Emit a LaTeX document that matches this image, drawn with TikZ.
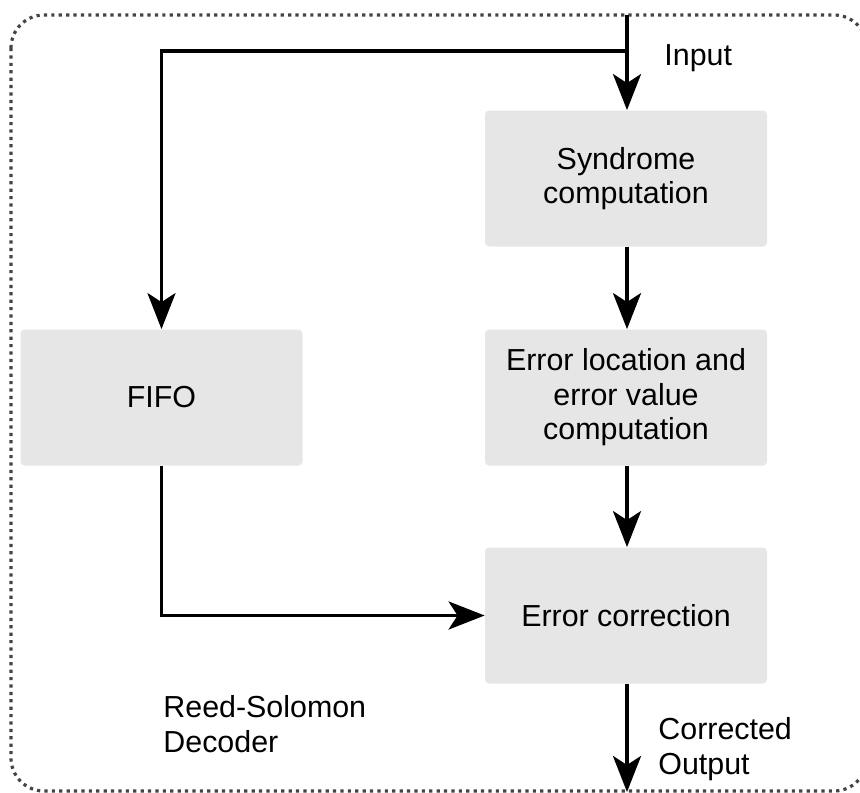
\documentclass[tikz,border=0pt]{standalone}
\usepackage{fontspec}
\setmainfont{Liberation Sans}
\usetikzlibrary{arrows.meta}
\definecolor{boxgray}{HTML}{E6E6E6}
\definecolor{dotgray}{HTML}{444444}
\tikzset{
  blk/.style={fill=boxgray, draw=none, rounded corners=2pt, minimum width=141pt, minimum height=68pt, inner sep=0pt, align=center, font=\fontsize{15.2}{17.3}\selectfont},
  conn/.style={line width=1.9pt, -{Stealth[length=18pt, width=14pt, inset=4.5pt]}},
  lbl/.style={inner sep=0pt, align=left, font=\fontsize{15.2}{17.3}\selectfont},
  frame/.style={draw=dotgray, line width=1.6pt, dash pattern=on 1.6pt off 2.1pt, rounded corners=16.5pt}
}
\begin{document}
\begin{tikzpicture}[x=0.5pt, y=-0.5pt]
\useasboundingbox (0,0) rectangle (860,792);
\draw[frame] (11,15) rectangle (867,791);
\node[blk] (syn) at (626,178.5) {Syndrome\\computation};
\node[blk] (loc) at (626,397.5) {Error location and\\error value\\computation};
\node[blk] (fifo) at (161.5,397.5) {FIFO};
\node[blk] (cor) at (626,615.5) {Error correction};
\coordinate (top) at (627,15);
\coordinate (split) at (627,51);
\coordinate (out) at (627,792);
\draw[conn] (top) -- (syn.north -| top);
\draw[conn] (split) -| (fifo.north);
\draw[conn] (syn.south -| top) -- (loc.north -| top);
\draw[conn] (loc.south -| top) -- (cor.north -| top);
\draw[conn] (fifo.south) |- (cor.west);
\draw[conn] (cor.south -| top) -- (out);
\node[lbl, anchor=north west] (inlbl) at (664,44) {Input};
\node[lbl, anchor=north west] (outlbl) at (658,717) {Corrected\\Output};
\node[lbl, anchor=north west] (rsd) at (163,695) {Reed-Solomon\\Decoder};
\end{tikzpicture}
\end{document}
